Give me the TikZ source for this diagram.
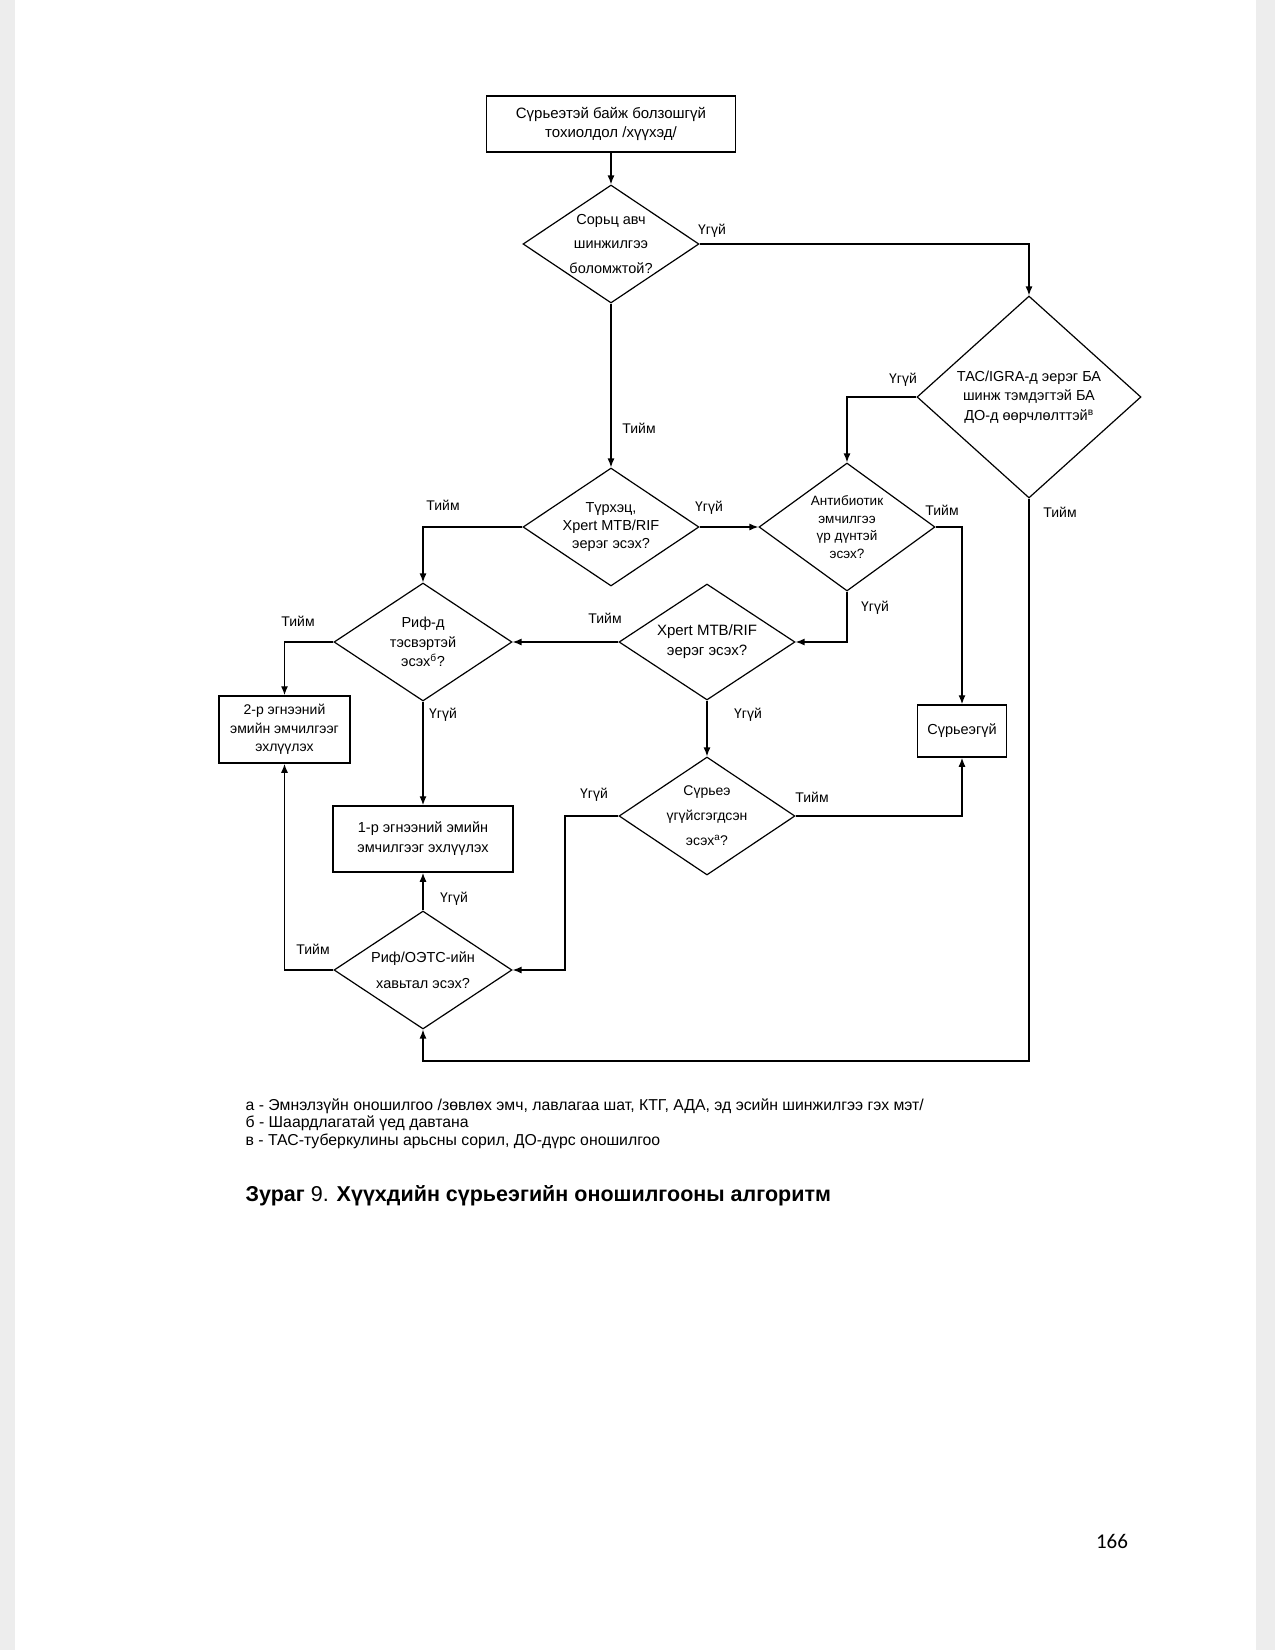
\documentclass[tikz,border=0pt]{standalone}
\usepackage{fontspec}
\setmainfont{Liberation Sans}
\newfontfamily\pagefont{Carlito}
\usetikzlibrary{shapes.geometric,arrows.meta}
\begin{document}
\begin{tikzpicture}[x=1pt,y=-1pt,
  line width=1.3pt,
  box/.style={draw, rectangle, inner sep=0pt, line width=1.5pt},
  dia/.style={draw, diamond, inner sep=0pt, line width=1.2pt},
  txt/.style={align=center, inner sep=0pt},
  lbl/.style={font=\fontsize{14}{16}\selectfont, inner sep=0pt},
  arr/.style={-{Latex[length=9pt,width=7pt]}, line width=1.3pt},
]
\fill[white] (0,0) rectangle (1275,1650);
\fill[black!7] (0,0) rectangle (15,1650);
\fill[black!7] (1256,0) rectangle (1275,1650);
\useasboundingbox (0,0) rectangle (1275,1650);

% boxes
\node[box, minimum width=249pt, minimum height=56pt] (start) at (611,124) {};
\node[txt, font=\fontsize{15}{19}\selectfont] (startt) at (start) {Сүрьеэтэй байж болзошгүй\\тохиолдол /хүүхэд/};
\node[box, minimum width=131pt, minimum height=67pt] (b2) at (284.5,729.5) {};
\node[txt, font=\fontsize{14}{18.5}\selectfont] (b2t) at (b2) {2-р эгнээний\\эмийн эмчилгээг\\эхлүүлэх};
\node[box, minimum width=180pt, minimum height=66pt] (b1) at (423,839) {};
\node[txt, font=\fontsize{14.5}{20}\selectfont] (b1t) at (b1) {1-р эгнээний эмийн\\эмчилгээг эхлүүлэх};
\node[box, minimum width=89pt, minimum height=52pt] (sg) at (962,731) {};
\node[txt, font=\fontsize{14.5}{18}\selectfont] (sgt) at (sg) {Сүрьеэгүй};

% diamonds
\node[dia, minimum width=176pt, minimum height=118pt] (d1) at (611,244) {};
\node[txt, font=\fontsize{14.5}{24.5}\selectfont] (d1t) at (d1) {Сорьц авч\\шинжилгээ\\боломжтой?};
\node[dia, minimum width=224pt, minimum height=202pt] (tac) at (1029,397) {};
\node[txt, font=\fontsize{14.5}{19.5}\selectfont] (tact) at (tac) {ТАС/IGRA-д эерэг БА\\шинж тэмдэгтэй БА\\ДО-д өөрчлөлттэй\textsuperscript{в}};
\node[dia, minimum width=176pt, minimum height=118pt] (tur) at (611,527) {};
\node[txt, font=\fontsize{14.5}{18}\selectfont] (turt) at (tur) {Түрхэц,\\Xpert MTB/RIF\\эерэг эсэх?};
\node[dia, minimum width=176pt, minimum height=128pt] (ab) at (847,527) {};
\node[txt, font=\fontsize{13.5}{17.5}\selectfont] (abt) at (ab) {Антибиотик\\эмчилгээ\\үр дүнтэй\\эсэх?};
\node[dia, minimum width=178pt, minimum height=118pt] (rif) at (423,642) {};
\node[txt, font=\fontsize{14.5}{19.5}\selectfont] (rift) at (rif) {Риф-д\\тэсвэртэй\\эсэх\textsuperscript{б}?};
\node[dia, minimum width=176pt, minimum height=116pt] (xp) at (707,642) {};
\node[txt, font=\fontsize{15}{20}\selectfont] (xpt) at (xp) {Xpert MTB/RIF\\эерэг эсэх?};
\node[dia, minimum width=176pt, minimum height=118pt] (sr) at (707,816) {};
\node[txt, font=\fontsize{14}{25}\selectfont] (srt) at (sr) {Сүрьеэ\\үгүйсгэгдсэн\\эсэх\textsuperscript{а}?};
\node[dia, minimum width=178pt, minimum height=118pt] (ro) at (423,970) {};
\node[txt, font=\fontsize{14.5}{26}\selectfont] (rot) at (ro) {Риф/ОЭТС-ийн\\хавьтал эсэх?};

% connectors
\coordinate (c14) at (565,816);
\coordinate (c17) at (1029,1061);
\draw[arr] (start) -- (d1.north);
\draw[arr] (d1.east) -| (tac.north);
\draw[arr] (tac.west) -| (ab.north);
\draw[arr] (d1.south) -- (tur.north);
\draw[arr] (tur.east) -- (ab.west);
\draw[arr] (tur.west) -| (rif.north);
\draw[arr] (ab.east) -| (sg.north);
\draw[arr] (ab.south) |- (xp.east);
\draw[arr] (xp.west) -- (rif.east);
\draw[arr] (xp.south) -- (sr.north);
\draw[arr] (rif.west) -| (b2.north);
\draw[arr] (rif.south) -- (b1.north);
\draw[arr] (sr.east) -| (sg.south);
\draw[arr] (sr.west) -- (c14) |- (ro.east);
\draw[arr] (ro.north) -- (b1.south);
\draw[arr] (ro.west) -| (b2.south);
\draw[arr] (tac.south) -- (c17) -| (ro.south);

% labels
\node[lbl] (l1) at (712,231) {Үгүй};
\node[lbl] (l2) at (903,380) {Үгүй};
\node[lbl] (l3) at (639,428) {Тийм};
\node[lbl] (l4) at (709,508) {Үгүй};
\node[lbl] (l5) at (443,505) {Тийм};
\node[lbl] (l6) at (942,510) {Тийм};
\node[lbl] (l7) at (875,608) {Үгүй};
\node[lbl] (l8) at (605,618) {Тийм};
\node[lbl] (l9) at (748,715) {Үгүй};
\node[lbl] (l10) at (298,621) {Тийм};
\node[lbl] (l11) at (443,715) {Үгүй};
\node[lbl] (l12) at (812,797) {Тийм};
\node[lbl] (l13) at (594,795) {Үгүй};
\node[lbl] (l14) at (454,899) {Үгүй};
\node[lbl] (l15) at (313,949) {Тийм};
\node[lbl] (l16) at (1060,512) {Тийм};

% footnotes
\node[anchor=north west, align=left, inner sep=0pt, font=\fontsize{15.8}{17.5}\selectfont] (fn) at (245,1098)
 {а - Эмнэлзүйн оношилгоо /зөвлөх эмч, лавлагаа шат, КТГ, АДА, эд эсийн шинжилгээ гэх мэт/\\
  б - Шаардлагатай үед давтана\\
  в - ТАС-туберкулины арьсны сорил, ДО-дүрс оношилгоо};
\node[anchor=west, inner sep=0pt, font=\fontsize{21.5}{26}\selectfont] (cap) at (245,1196) {\textbf{Зураг} 9. \textbf{Хүүхдийн сүрьеэгийн оношилгооны алгоритм}};
\node[inner sep=0pt, font=\pagefont\fontsize{21}{24}\selectfont] (pg) at (1112,1541) {166};
\end{tikzpicture}
\end{document}
